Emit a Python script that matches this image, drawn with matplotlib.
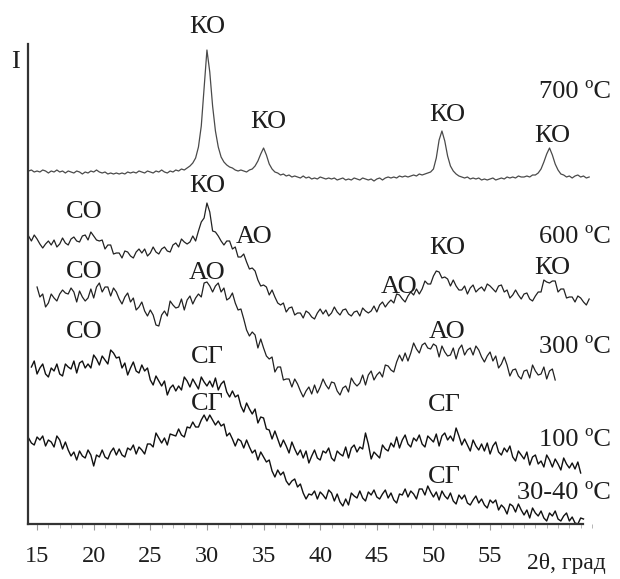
import numpy as np
import matplotlib
matplotlib.use("Agg")
import matplotlib.pyplot as plt
from matplotlib.ticker import MultipleLocator

plt.rcParams['font.family'] = ['Liberation Serif', 'DejaVu Serif']

STEP = 0.25  # 2theta sampling, deg

# intensity (arb. units) at 0.25 deg steps
start_700 = 14.25
i_700 = [353, 354, 352,
         353, 352, 354, 353, 351, 353, 352, 354, 352, 353, 351, 353,
         352, 351, 353, 352, 350, 352, 351, 353, 352, 354, 352, 351,
         352, 350, 351, 350, 351, 350, 351, 350, 352, 351, 352, 351,
         353, 352, 351, 353, 352, 351, 353, 352, 354, 352, 351, 353,
         352, 354, 353, 355, 354, 356, 358, 361, 366, 377, 398, 436,
         474, 452, 418, 393, 377, 367, 362, 359, 357, 356, 354, 353,
         354, 353, 352, 354, 355, 358, 363, 370, 376, 369, 360, 355,
         352, 351, 349, 350, 348, 349, 347, 348, 347, 346, 348, 346,
         347, 345, 346, 345, 347, 346, 345, 346, 345, 346, 344, 345,
         346, 344, 345, 344, 346, 345, 344, 346, 345, 344, 345, 343,
         345, 346, 344, 346, 347, 346, 347, 346, 348, 347, 348, 347,
         348, 349, 348, 350, 349, 350, 351, 352, 355, 366, 384, 393,
         383, 368, 358, 353, 350, 348, 347, 346, 347, 345, 346, 345,
         346, 344, 345, 344, 345, 346, 344, 345, 346, 345, 347, 346,
         347, 346, 348, 347, 347, 348, 347, 349, 349, 351, 355, 362,
         370, 376, 369, 360, 354, 350, 349, 347, 348, 346, 348, 349,
         347, 348, 346, 347]

start_600 = 14.25
i_600 = [288, 283, 289,
         285, 280, 276, 280, 283, 279, 284, 277, 280, 286, 281, 279,
         285, 287, 283, 282, 288, 289, 284, 292, 288, 284, 283, 284,
         275, 279, 279, 270, 271, 271, 266, 273, 272, 268, 266, 272,
         275, 271, 275, 268, 271, 277, 272, 270, 275, 277, 273, 272,
         279, 281, 277, 285, 282, 280, 282, 288, 283, 293, 302, 306,
         321, 312, 293, 292, 288, 283, 279, 283, 283, 275, 277, 267,
         267, 270, 262, 255, 256, 253, 244, 238, 239, 237, 229, 234,
         227, 221, 219, 221, 212, 216, 217, 209, 211, 211, 206, 213,
         211, 207, 205, 211, 215, 210, 214, 208, 211, 217, 212, 209,
         214, 215, 210, 208, 212, 213, 208, 216, 213, 211, 213, 218,
         212, 219, 222, 217, 221, 224, 221, 230, 229, 225, 222, 228,
         232, 229, 235, 230, 235, 243, 240, 240, 248, 253, 252, 246,
         247, 245, 238, 244, 238, 234, 234, 238, 230, 236, 239, 232,
         235, 237, 233, 240, 238, 235, 232, 238, 239, 232, 234, 226,
         229, 234, 229, 225, 230, 231, 225, 223, 228, 232, 232, 244,
         242, 241, 243, 243, 232, 235, 235, 226, 227, 227, 222, 228,
         226, 222, 219, 225]

start_300 = 15.0
i_300 = [237, 227, 230, 217, 221, 230, 226, 223, 230, 234, 231, 230,
         236, 232, 222, 233, 227, 223, 226, 235, 226, 237, 241, 232,
         237, 237, 228, 236, 232, 225, 220, 227, 231, 222, 226, 214,
         217, 222, 213, 208, 214, 209, 199, 198, 209, 213, 208, 223,
         219, 216, 217, 225, 214, 224, 228, 220, 226, 230, 227, 241,
         242, 238, 232, 238, 241, 232, 236, 224, 226, 231, 221, 214,
         215, 205, 194, 188, 192, 189, 176, 185, 176, 168, 165, 167,
         152, 157, 157, 144, 145, 145, 137, 145, 140, 133, 127, 133,
         137, 130, 139, 131, 137, 145, 139, 135, 142, 141, 133, 129,
         136, 138, 132, 146, 141, 138, 141, 149, 139, 149, 153, 144,
         149, 152, 147, 159, 158, 154, 152, 162, 169, 163, 171, 163,
         171, 181, 175, 171, 179, 181, 176, 175, 180, 178, 167, 178,
         172, 168, 169, 176, 165, 175, 179, 169, 174, 176, 169, 178,
         174, 167, 162, 168, 172, 163, 168, 156, 160, 167, 159, 148,
         154, 155, 148, 145, 153, 154, 146, 159, 153, 149, 150, 157,
         145, 153, 155, 144]

start_100 = 14.5
i_100 = [157, 163,
         150, 156, 160, 150, 147, 156, 153, 160, 150, 148, 160, 157,
         155, 163, 151, 161, 163, 156, 160, 156, 169, 165, 159, 168,
         164, 160, 174, 171, 166, 167, 156, 161, 149, 156, 162, 153,
         151, 159, 153, 156, 144, 139, 148, 143, 138, 143, 129, 136,
         139, 133, 138, 134, 147, 143, 137, 145, 140, 135, 147, 142,
         138, 143, 137, 146, 134, 140, 143, 132, 127, 133, 127, 129,
         118, 112, 121, 115, 110, 115, 101, 107, 106, 95, 94, 85,
         93, 85, 77, 84, 78, 71, 82, 75, 69, 74, 66, 73,
         61, 68, 74, 66, 64, 73, 71, 76, 66, 63, 73, 70,
         68, 77, 66, 76, 79, 72, 77, 75, 91, 80, 65, 72,
         69, 66, 79, 75, 73, 81, 77, 87, 76, 84, 89, 80,
         77, 86, 83, 89, 80, 77, 88, 85, 82, 90, 78, 88,
         91, 84, 88, 83, 96, 88, 79, 85, 79, 73, 84, 78,
         74, 80, 73, 81, 70, 78, 82, 72, 69, 76, 72, 78,
         67, 63, 73, 69, 65, 72, 59, 67, 69, 60, 63, 57,
         69, 64, 57, 65, 60, 54, 66, 60, 56, 61, 55, 62,
         51]

start_30 = 14.25
i_30 = [86, 81, 79,
        87, 84, 88, 78, 84, 82, 77, 88, 84, 75, 82, 74,
        68, 72, 64, 73, 68, 66, 74, 69, 58, 69, 67, 74,
        67, 65, 72, 76, 69, 75, 69, 67, 76, 74, 79, 70,
        77, 74, 70, 80, 80, 77, 91, 86, 81, 86, 79, 90,
        89, 88, 95, 89, 87, 97, 96, 102, 97, 97, 104, 109,
        103, 109, 104, 99, 103, 98, 100, 88, 91, 85, 78, 85,
        83, 76, 84, 77, 71, 74, 64, 72, 67, 62, 64, 53,
        47, 54, 49, 52, 43, 39, 43, 45, 37, 40, 31, 25,
        30, 29, 33, 25, 32, 29, 25, 34, 31, 23, 30, 22,
        18, 25, 19, 31, 28, 26, 33, 26, 23, 32, 29, 34,
        27, 25, 30, 34, 26, 31, 24, 21, 30, 29, 35, 27,
        33, 30, 25, 35, 35, 29, 38, 32, 27, 32, 24, 33,
        28, 25, 31, 23, 20, 29, 25, 29, 21, 19, 24, 28,
        21, 25, 19, 16, 24, 21, 24, 14, 19, 16, 10, 20,
        18, 12, 20, 14, 9, 14, 6, 16, 11, 8, 13, 6,
        3, 11, 8, 13, 5, 3, 8, 11, 3, 7, 1, 0,
        6, 5]

curves = [(start_700, i_700, '#4a4a4a', 0.9),
          (start_600, i_600, '#222222', 0.9),
          (start_300, i_300, '#222222', 0.9),
          (start_100, i_100, '#111111', 1.0),
          (start_30, i_30, '#111111', 1.0)]

temps = ['700 ºC', '600 ºC', '300 ºC', '100 ºC', '30-40 ºC']
temp_y = [432, 287, 177, 84, 31]

phase_labels = ['КО', 'КО', 'КО', 'КО',
                'СО', 'КО', 'АО', 'КО', 'КО',
                'СО', 'АО', 'АО', 'АО',
                'СО', 'СГ', 'СГ',
                'СГ', 'СГ']
phase_x = [30.0, 35.4, 51.2, 60.5,
           19.2, 30.0, 34.2, 51.2, 60.5,
           19.2, 30.0, 47.0, 51.2,
           19.2, 30.0, 51.0,
           30.0, 51.0]
phase_y = [497, 402, 409, 388,
           312, 338, 287, 276, 256,
           252, 251, 237, 192,
           192, 167, 119,
           120, 47]

fig = plt.figure(figsize=(6.2, 5.79), dpi=100)
ax = fig.add_axes([28 / 620, 55 / 579, 564 / 620, 480 / 579])

for x0, vals, col, lw in curves:
    tt = x0 + STEP * np.arange(len(vals))
    ax.plot(tt, vals, color=col, lw=lw)

ax.set_xlim(14.2, 64.0)
ax.set_ylim(0, 480)

for s in ['top', 'right']:
    ax.spines[s].set_visible(False)
ax.spines['left'].set_linewidth(1.6)
ax.spines['bottom'].set_linewidth(1.6)
ax.spines['left'].set_color('#333333')
ax.spines['bottom'].set_color('#333333')
ax.spines['bottom'].set_bounds(14.2, 63.2)

ax.set_yticks([])
ax.set_xticks(np.arange(15, 56, 5))
ax.xaxis.set_minor_locator(MultipleLocator(1))
ax.tick_params(axis='x', which='major', length=4, width=0.8, color='#999999',
               labelsize=17.5, pad=12, labelcolor='#1e1e1e')
ax.tick_params(axis='x', which='minor', length=3, width=0.6, color='#aaaaaa')

ax.text(13.05, 462, 'I', fontsize=19, ha='center', va='center', color='#1e1e1e')
ax.text(61.7, -39, '2θ, град', fontsize=17, ha='center', va='center', color='#1e1e1e')

for t, y in zip(temps, temp_y):
    ax.text(65.66, y, t, fontsize=19, ha='right', va='center', color='#1e1e1e')
for t, x, y in zip(phase_labels, phase_x, phase_y):
    ax.text(x, y, t, fontsize=19, ha='center', va='center', color='#1e1e1e')

fig.savefig('out.png', dpi=100)
